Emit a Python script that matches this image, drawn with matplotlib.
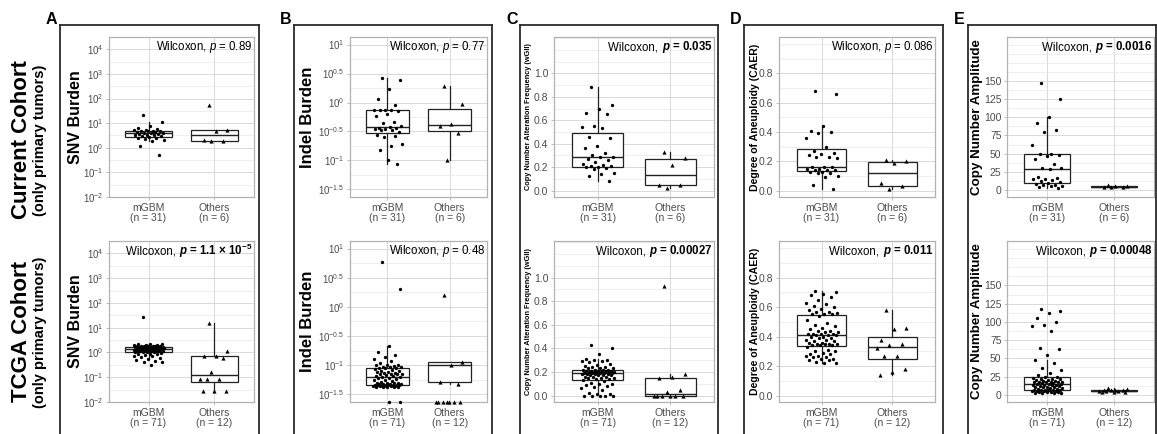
import matplotlib
matplotlib.use('Agg')
import matplotlib.pyplot as plt
from matplotlib.lines import Line2D
from matplotlib.ticker import FixedLocator, NullFormatter
import numpy as np

plt.rcParams['font.family'] = ['Liberation Sans', 'DejaVu Sans']
plt.rcParams['mathtext.fontset'] = 'custom'
plt.rcParams['mathtext.rm'] = 'Liberation Sans'
plt.rcParams['mathtext.it'] = 'Liberation Sans:italic'
plt.rcParams['mathtext.bf'] = 'Liberation Sans:bold'
plt.rcParams['mathtext.bfit'] = 'Liberation Sans:italic:bold'

groups = ['mGBM', 'Others']
n_current = [31, 6]
n_tcga = [71, 12]
panel_letters = ['A', 'B', 'C', 'D', 'E']
row_titles = ['Current Cohort', 'TCGA Cohort']

# ---- SNV burden ----
snv_current_mgbm = [22, 11, 7.5, 6.2, 5.6, 5.4, 5.2, 5.0, 5.0, 4.8, 4.6, 4.4, 4.2, 4.0, 3.9, 3.8,
                    3.7, 3.6, 3.4, 3.3, 3.2, 3.0, 2.9, 2.8, 2.6, 2.4, 2.2, 2.0, 1.8, 1.2, 0.52]
snv_current_others = [55, 5.2, 5.0, 2.1, 1.9, 1.8]
snv_tcga_mgbm = [28, 2.3, 2.2, 2.1, 2.0, 2.0, 1.95, 1.9, 1.9, 1.85, 1.8, 1.8, 1.75, 1.75, 1.7, 1.7,
                 1.7, 1.65, 1.65, 1.6, 1.6, 1.6, 1.55, 1.55, 1.55, 1.5, 1.5, 1.5, 1.45, 1.45, 1.4,
                 1.4, 1.4, 1.35, 1.35, 1.35, 1.35, 1.3, 1.3, 1.3, 1.3, 1.25, 1.25, 1.25, 1.2, 1.2,
                 1.2, 1.15, 1.15, 1.1, 1.1, 1.1, 1.05, 1.05, 1.0, 1.0, 0.95, 0.9, 0.9, 0.85, 0.8,
                 0.75, 0.7, 0.65, 0.6, 0.55, 0.5, 0.45, 0.42, 0.4, 0.32]
snv_tcga_others = [16, 1.2, 0.75, 0.7, 0.6, 0.17, 0.085, 0.085, 0.085, 0.027, 0.027, 0.027]

# ---- Indel burden ----
indel_current_mgbm = [2.7, 2.4, 1.7, 1.17, 0.9, 0.75, 0.74, 0.74, 0.73, 0.72, 0.64, 0.58, 0.46,
                      0.44, 0.4, 0.38, 0.37, 0.36, 0.35, 0.35, 0.34, 0.33, 0.31, 0.1, 0.28, 0.26,
                      0.25, 0.19, 0.18, 0.15, 0.088]
indel_current_others = [1.9, 0.95, 0.42, 0.4, 0.3, 0.1]
indel_tcga_mgbm = [5.9, 2.0, 0.21, 0.17, 0.15, 0.14, 0.13, 0.12, 0.11, 0.1, 0.1, 0.1, 0.098, 0.095,
                   0.095, 0.093, 0.09, 0.09, 0.088, 0.085, 0.083, 0.08, 0.08, 0.078, 0.076, 0.075,
                   0.074, 0.072, 0.072, 0.07, 0.07, 0.068, 0.066, 0.065, 0.064, 0.062, 0.06, 0.06,
                   0.058, 0.056, 0.055, 0.054, 0.052, 0.05, 0.05, 0.05, 0.049, 0.048, 0.048, 0.047,
                   0.047, 0.046, 0.046, 0.046, 0.045, 0.045, 0.045, 0.045, 0.045, 0.044, 0.044,
                   0.044, 0.044, 0.044, 0.043, 0.043, 0.043, 0.043, 0.043, 0, 0]
indel_tcga_others = [1.6, 0.114, 0.1, 0.051, 0.048, 0, 0, 0, 0, 0, 0, 0]

# ---- weighted genome instability index ----
wgii_current_mgbm = [0.88, 0.73, 0.70, 0.66, 0.65, 0.55, 0.54, 0.53, 0.46, 0.45, 0.38, 0.36, 0.32,
                     0.30, 0.29, 0.29, 0.27, 0.26, 0.24, 0.23, 0.22, 0.21, 0.21, 0.2, 0.2, 0.19,
                     0.18, 0.15, 0.14, 0.12, 0.08]
wgii_current_others = [0.33, 0.28, 0.22, 0.05, 0.05, 0.02]
wgii_tcga_mgbm = [0.43, 0.40, 0.35, 0.31, 0.30, 0.30, 0.29, 0.29, 0.28, 0.27, 0.26, 0.25, 0.24,
                  0.24, 0.23, 0.23, 0.23, 0.22, 0.22, 0.22, 0.22, 0.21, 0.21, 0.21, 0.21, 0.21,
                  0.20, 0.20, 0.20, 0.20, 0.20, 0.20, 0.19, 0.19, 0.19, 0.19, 0.19, 0.18, 0.18,
                  0.18, 0.18, 0.17, 0.17, 0.17, 0.17, 0.16, 0.16, 0.16, 0.15, 0.15, 0.15, 0.14,
                  0.14, 0.13, 0.12, 0.11, 0.10, 0.10, 0.09, 0.08, 0.07, 0.06, 0.05, 0.02, 0.01,
                  0.01, 0.0, 0.0, 0.0, 0.0, 0.0]
wgii_tcga_others = [0.93, 0.18, 0.16, 0.15, 0.05, 0.03, 0.0, 0.0, 0.0, 0.0, 0.0, 0.0]

# ---- CAER ----
caer_current_mgbm = [0.68, 0.66, 0.44, 0.41, 0.40, 0.39, 0.36, 0.30, 0.27, 0.26, 0.25, 0.24, 0.23,
                     0.23, 0.22, 0.16, 0.16, 0.16, 0.15, 0.15, 0.14, 0.14, 0.14, 0.13, 0.13, 0.12,
                     0.12, 0.10, 0.09, 0.04, 0.01]
caer_current_others = [0.21, 0.20, 0.19, 0.05, 0.03, 0.01]
caer_tcga_mgbm = [0.71, 0.70, 0.69, 0.68, 0.67, 0.65, 0.63, 0.62, 0.61, 0.60, 0.59, 0.58, 0.57,
                  0.57, 0.56, 0.55, 0.55, 0.55, 0.54, 0.51, 0.49, 0.48, 0.47, 0.46, 0.45, 0.44,
                  0.44, 0.43, 0.43, 0.42, 0.42, 0.42, 0.42, 0.41, 0.41, 0.41, 0.40, 0.40, 0.39,
                  0.39, 0.38, 0.38, 0.37, 0.37, 0.36, 0.36, 0.35, 0.35, 0.35, 0.35, 0.34, 0.34,
                  0.34, 0.33, 0.31, 0.30, 0.30, 0.29, 0.28, 0.28, 0.27, 0.27, 0.26, 0.26, 0.25,
                  0.25, 0.24, 0.24, 0.23, 0.22, 0.22]
caer_tcga_others = [0.58, 0.46, 0.45, 0.38, 0.35, 0.34, 0.32, 0.27, 0.27, 0.18, 0.16, 0.14]

# ---- copy number amplitude ----
amp_current_mgbm = [148, 125, 101, 92, 82, 80, 62, 50, 49, 48, 47, 42, 36, 30, 30, 29, 17, 16, 15,
                    15, 13, 12, 11, 9, 8, 7, 6, 5, 5, 4, 3]
amp_current_others = [7, 5, 5, 4, 4, 4]
amp_tcga_mgbm = [118, 115, 112, 105, 100, 96, 95, 87, 64, 63, 55, 48, 44, 36, 34, 30, 27, 25, 24,
                 23, 22, 22, 21, 20, 20, 19, 19, 18, 18, 17, 17, 17, 17, 16, 16, 15, 15, 15, 14,
                 14, 13, 13, 12, 12, 11, 11, 10, 10, 9, 9, 8, 8, 7, 7, 7, 6, 6, 6, 5, 5, 5, 5, 4,
                 4, 4, 4, 3, 3, 3, 2, 6]
amp_tcga_others = [9, 8, 7, 7, 6, 6, 5, 5, 5, 4, 4, 4]

p_current = ['0.89', '0.77', '0.035', '0.086', '0.0016']
p_tcga = ['1.1 \u00d7 10$^{\\mathbf{-5}}$', '0.48', '0.00027', '0.011', '0.00048']
sig_current = [False, False, True, False, True]
sig_tcga = [True, False, True, True, True]

y_titles = ['SNV Burden', 'Indel Burden', 'Copy Number Alteration Frequency (wGII)',
            'Degree of Aneuploidy (CAER)', 'Copy Number Amplitude']

data_current = [[snv_current_mgbm, snv_current_others], [indel_current_mgbm, indel_current_others],
                [wgii_current_mgbm, wgii_current_others], [caer_current_mgbm, caer_current_others],
                [amp_current_mgbm, amp_current_others]]
data_tcga = [[snv_tcga_mgbm, snv_tcga_others], [indel_tcga_mgbm, indel_tcga_others],
             [wgii_tcga_mgbm, wgii_tcga_others], [caer_tcga_mgbm, caer_tcga_others],
             [amp_tcga_mgbm, amp_tcga_others]]

# layout (pixels)
W, H = 1157, 434
col_x = [(109, 254), (350, 487), (554, 714), (779, 935), (1007, 1154)]
row_y = [(37, 197), (241, 402)]
frame_x = [(60, 259), (294, 492), (520, 718), (744, 943), (968, 1156)]
ytitle_x = [75, 307, 529, 755, 977]
ytitle_size = [11.5, 12, 5.3, 7.6, 9.6]

# axis settings per column
log_cols = [True, True, False, False, False]
ylims = [(10 ** -2, 10 ** 4.5), (10 ** -1.63, 10 ** 1.13), (-0.055, 1.31), (-0.043, 1.048), (-10, 211)]
major_ticks = [[-2, -1, 0, 1, 2, 3, 4], [-1.5, -1, -0.5, 0, 0.5, 1],
               [0, 0.2, 0.4, 0.6, 0.8, 1.0], [0, 0.2, 0.4, 0.6, 0.8], [0, 25, 50, 75, 100, 125, 150]]
grid_step = [0.5, 0.25, 0.1, 0.1, 12.5]

GREY = '#4D4D4D'
fig = plt.figure(figsize=(W / 100, H / 100), dpi=100)
renderer = fig.canvas.get_renderer()


def px_rect(x0, x1, y0, y1):
    return [x0 / W, 1 - y1 / H, (x1 - x0) / W, (y1 - y0) / H]


def box_stats(vals, log):
    v = np.asarray(vals, float)
    if log:
        v = np.log10(v[v > 0])
    q1, med, q3 = np.percentile(v, [25, 50, 75])
    iqr = q3 - q1
    lo = v[v >= q1 - 1.5 * iqr].min()
    hi = v[v <= q3 + 1.5 * iqr].max()
    st = dict(q1=q1, med=med, q3=q3, whislo=lo, whishi=hi)
    if log:
        st = {k: 10 ** x for k, x in st.items()}
    st['fliers'] = []
    return st


def fmt_pow(e):
    return r'$\mathregular{10^{%g}}$' % e


for r, (data, ns, pvals, sigs) in enumerate([(data_current, n_current, p_current, sig_current),
                                             (data_tcga, n_tcga, p_tcga, sig_tcga)]):
    y0, y1 = row_y[r]
    for c in range(5):
        x0, x1 = col_x[c]
        ax = fig.add_axes(px_rect(x0, x1, y0, y1))
        log = log_cols[c]
        lo, hi = ylims[c]

        stats = [box_stats(d, log) for d in data[c]]
        ax.bxp(stats, positions=[1, 2], widths=0.7, showfliers=False, showcaps=False,
               patch_artist=True, manage_ticks=False,
               boxprops=dict(facecolor='white', edgecolor='#222222', linewidth=0.9),
               medianprops=dict(color='#222222', linewidth=1.0),
               whiskerprops=dict(color='#222222', linewidth=0.9))

        if log:
            ax.set_yscale('log')
            ax.set_ylim(lo, hi)
            ax.set_yticks([10 ** e for e in major_ticks[c]])
            ax.set_yticklabels([fmt_pow(e) for e in major_ticks[c]], fontsize=7)
            elo, ehi = np.log10(lo), np.log10(hi)
            grid_e = np.arange(np.floor(elo / grid_step[c]) * grid_step[c], ehi, grid_step[c])
            minor = [10 ** e for e in grid_e
                     if all(abs(e - m) > 1e-6 for m in major_ticks[c])]
        else:
            ax.set_ylim(lo, hi)
            maj = major_ticks[c]
            ax.set_yticks(maj)
            ax.set_yticklabels(['%g' % m if c == 4 else '%.1f' % m for m in maj], fontsize=7.5)
            g = np.arange(0, hi, grid_step[c])
            minor = [v for v in g if all(abs(v - m) > 1e-6 for m in maj)]
        ax.yaxis.set_minor_locator(FixedLocator(minor))
        ax.yaxis.set_minor_formatter(NullFormatter())
        ax.set_xlim(0.4, 2.6)
        ax.set_xticks([1, 2])
        ax.set_xticklabels(['%s\n(n = %d)' % (g, n) for g, n in zip(groups, ns)], fontsize=7.5,
                           color=GREY, linespacing=1.1)
        ax.tick_params(axis='both', which='major', length=2.5, width=0.6, color='#B3B3B3',
                       labelcolor=GREY, pad=1.5)
        ax.tick_params(axis='y', which='minor', length=0)
        ax.grid(True, which='major', color='#D9D9D9', linewidth=0.7)
        ax.grid(True, which='minor', axis='y', color='#E9E9E9', linewidth=0.5)
        ax.set_axisbelow(True)
        for sp in ax.spines.values():
            sp.set_color('#B3B3B3')
            sp.set_linewidth(0.9)

        for gi, (vals, mk, ms) in enumerate(zip(data[c], ['o', '^'], [2.4, 3.0])):
            v = np.asarray(vals, float)
            k = np.arange(len(v))
            off = (((k * 0.6180339887 + 0.31) % 1.0) - 0.5) * 0.46
            y = v.copy()
            if log:
                y[v <= 0] = lo
            ax.plot(gi + 1 + off, y, ls='none', marker=mk, ms=ms, mfc='black', mec='black',
                    mew=0, zorder=4, clip_on=False)

        # Wilcoxon annotation, right aligned near top
        xt = (x1 - 1.5) / W
        yt = 1 - (y0 + 10) / H
        if sigs[c]:
            t2 = fig.text(xt, yt, r'$\mathbfit{p}$ = ' + pvals[c], ha='right', va='center',
                          fontsize=8.3, fontweight='bold', zorder=5)
            w2 = t2.get_window_extent(renderer).width
            fig.text(xt - w2 / W, yt, 'Wilcoxon, ', ha='right', va='center', fontsize=8.3,
                     zorder=5)
        else:
            fig.text(xt, yt, r'Wilcoxon, $\mathit{p}$ = ' + pvals[c], ha='right', va='center',
                     fontsize=8.3, zorder=5)

        fig.text(ytitle_x[c] / W, 1 - (y0 + y1) / 2 / H, y_titles[c], rotation=90,
                 ha='center', va='center', fontsize=ytitle_size[c], fontweight='bold')

# outer frames and panel letters
for c in range(5):
    fx0, fx1 = frame_x[c]
    kw = dict(color='#2A2A2A', linewidth=1.3, transform=fig.transFigure)
    fig.add_artist(Line2D([fx0 / W, fx0 / W], [0, 1 - 25 / H], **kw))
    fig.add_artist(Line2D([fx1 / W, fx1 / W], [0, 1 - 25 / H], **kw))
    fig.add_artist(Line2D([fx0 / W, fx1 / W], [1 - 25 / H, 1 - 25 / H], **kw))
    fig.text((fx0 - 14) / W, 1 - 24 / H, panel_letters[c], ha='left', va='baseline',
             fontsize=11.5, fontweight='bold')

# row titles
for r, yc in enumerate([140, 332]):
    fig.text(22 / W, 1 - yc / H, row_titles[r], rotation=90, ha='center', va='center',
             fontsize=16, fontweight='bold')
    fig.text(40 / W, 1 - yc / H, '(only primary tumors)', rotation=90, ha='center',
             va='center', fontsize=10.5, fontweight='bold')

fig.savefig('out.png', dpi=100)
